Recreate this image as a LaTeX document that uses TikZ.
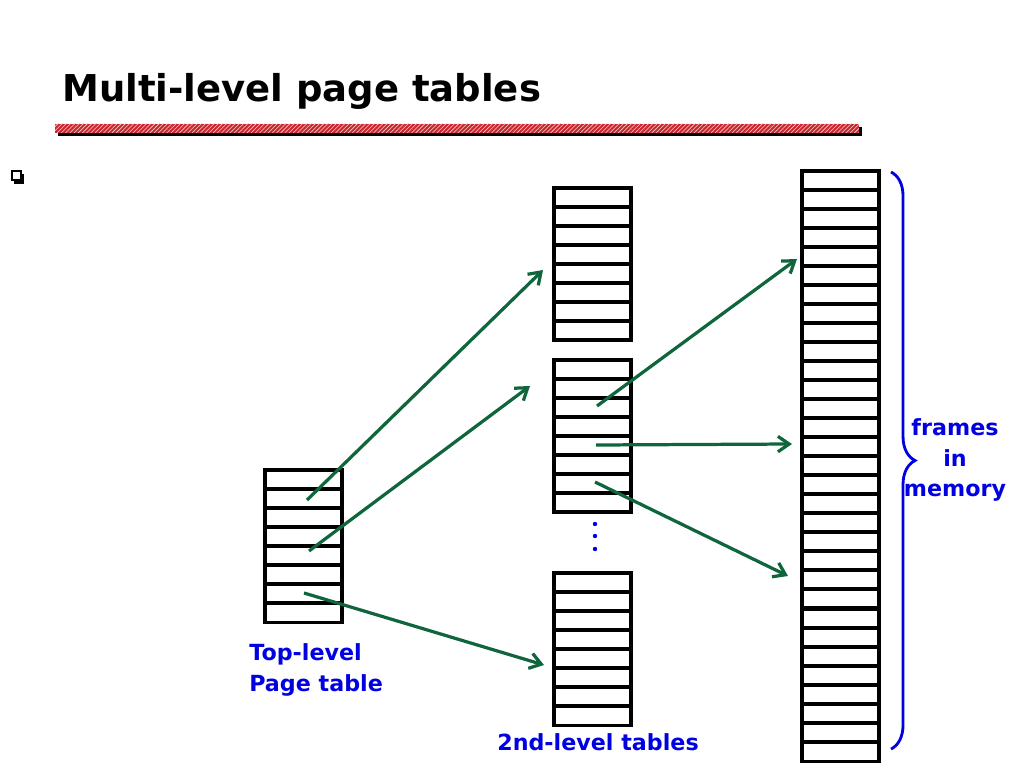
\documentclass[tikz,border=0pt]{standalone}
\usepackage{fontspec}
\setmainfont{DejaVu Sans}
\usetikzlibrary{calc, arrows.meta, patterns, decorations.pathreplacing}
\definecolor{arrowgreen}{RGB}{16,102,60}
\definecolor{labelblue}{RGB}{0,0,225}
\definecolor{barred}{RGB}{200,40,50}
\tikzset{
  pagetbl/.style={draw, line width=2.2pt, minimum width=1.925cm, inner sep=0pt, outer sep=0pt, anchor=north west},
  rowline/.style={line width=2.4pt},
  ptr/.style={draw=arrowgreen, line width=2.3pt, -{Straight Barb[length=8pt,width=11pt]}},
  lbl/.style={text=labelblue, font=\bfseries\fontsize{15.8}{22}\selectfont, inner sep=0pt},
}

\begin{document}
\begin{tikzpicture}[x=0.025cm, y=-0.025cm]
		\useasboundingbox (0,0) rectangle (1024,768);

		% title and bar
		\node[anchor=base west, inner sep=0pt, font=\bfseries\fontsize{26.3}{30}\selectfont] (title) at (62,102) {Multi-level page tables};
		\fill[black] (58,127) rectangle (862,136);
		\fill[barred] (55,124) rectangle (859,133);
		\fill[pattern=north east lines, pattern color=red!20!white] (55,124) rectangle (859,133);

		% bullet
		\fill (14,174) rectangle (24,184);
		\draw[fill=white, line width=0.9pt] (12,171) rectangle (21,180);

		% tables
		\foreach \n/\x/\y/\r in {top/265/470/8, sa/554/188/8, sb/554/360/8, sc/554/573/8, fa/802/171/24, fb/802/609/8}{
			\pgfmathsetmacro\h{\r*0.475}
			\node[pagetbl, minimum height=\h cm] (\n) at (\x,\y) {};
			\pgfmathtruncatemacro\last{\r-1}
			\foreach \k in {1,...,\last}
				\draw[rowline] ($(\n.north west)+(0,{\k*19})$) -- ($(\n.north east)+(0,{\k*19})$);
		}

		\foreach \d in {524,536,549}
			\fill[labelblue] (595,\d) circle[radius=2.2];

		% entries
		\coordinate (top-a) at ($(top.north west)+(42,30)$);
		\coordinate (top-b) at ($(top.north west)+(44,81)$);
		\coordinate (top-c) at ($(top.north west)+(39,123)$);
		\coordinate (sb-a) at ($(sb.north west)+(43,46)$);
		\coordinate (sb-b) at ($(sb.north west)+(42,85)$);
		\coordinate (sb-c) at ($(sb.north west)+(41,122)$);
		\coordinate (sa-in) at ($(sa.north west)+(-11,82)$);
		\coordinate (sb-in) at ($(sb.north west)+(-24,26)$);
		\coordinate (sc-in) at ($(sc.north west)+(-10,92)$);
		\coordinate (fa-in1) at ($(fa.north west)+(-5,88)$);
		\coordinate (fa-in2) at ($(fa.north west)+(-10,273)$);
		\coordinate (fa-in3) at ($(fa.north west)+(-14,405)$);

		\draw[ptr] (top-a) -- (sa-in);
		\draw[ptr] (top-b) -- (sb-in);
		\draw[ptr] (top-c) -- (sc-in);
		\draw[ptr] (sb-a) -- (fa-in1);
		\draw[ptr] (sb-b) -- (fa-in2);
		\draw[ptr] (sb-c) -- (fa-in3);

		% brace
		\coordinate (br-top) at ($(fa.north east)+(12,1)$);
		\coordinate (br-bot) at ($(fb.south east)+(12,-12)$);
		\draw[labelblue, line width=2pt, decorate, decoration={brace, amplitude=0.6cm, aspect=0.5}] (br-top) -- (br-bot);

		% labels
		\node[lbl, align=center] (frames) at (955,460) {frames\\in\\memory};
		\node[lbl, align=left, anchor=west] (toplbl) at (249,670) {Top-level\\Page table};
		\node[lbl, anchor=base] (sndlbl) at (598,750) {2nd-level tables};
	\end{tikzpicture}
\end{document}
